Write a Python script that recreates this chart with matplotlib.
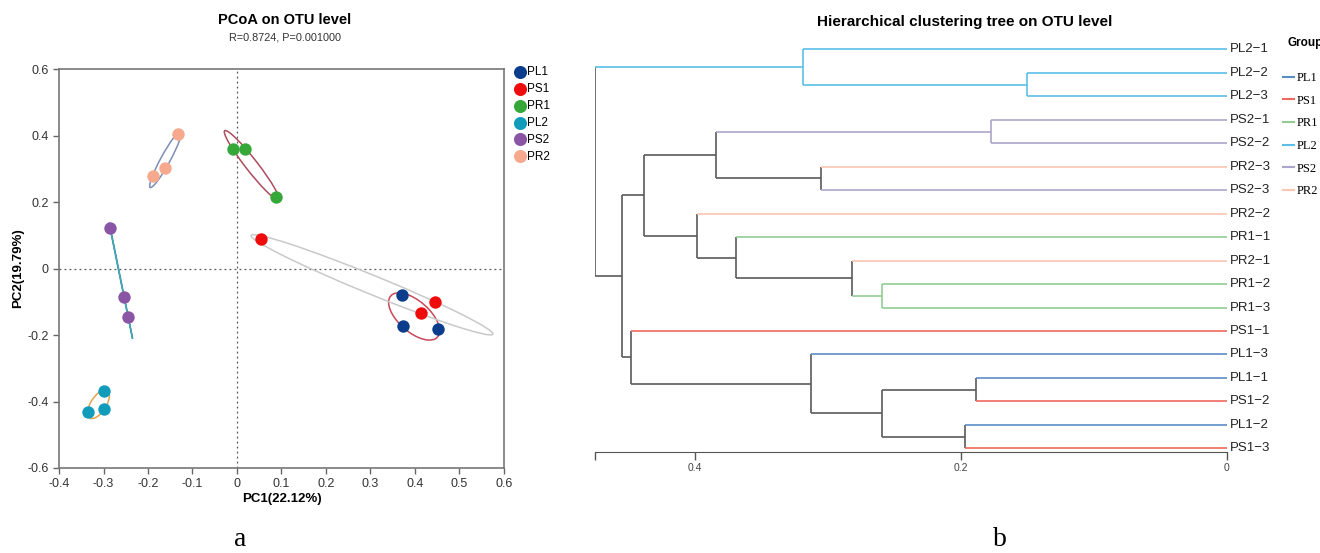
import numpy as np
import matplotlib
matplotlib.use("Agg")
import matplotlib.pyplot as plt
from matplotlib.patches import Ellipse
from matplotlib.lines import Line2D

plt.rcParams['font.family'] = ['Liberation Sans', 'DejaVu Sans']

# ---- PCoA data ----
groups = ["PL1", "PS1", "PR1", "PL2", "PS2", "PR2"]
pc1 = {
    "PL1": [0.370, 0.373, 0.451],
    "PS1": [0.053, 0.413, 0.444],
    "PR1": [-0.008, 0.019, 0.087],
    "PL2": [-0.300, -0.300, -0.334],
    "PS2": [-0.285, -0.253, -0.245],
    "PR2": [-0.132, -0.161, -0.189],
}
pc2 = {
    "PL1": [-0.079, -0.172, -0.182],
    "PS1": [0.089, -0.134, -0.102],
    "PR1": [0.359, 0.359, 0.215],
    "PL2": [-0.369, -0.424, -0.432],
    "PS2": [0.121, -0.087, -0.145],
    "PR2": [0.405, 0.301, 0.278],
}
point_colors = {"PL1": "#0b3d8c", "PS1": "#ee0c0c", "PR1": "#36a83a",
                "PL2": "#119cbc", "PS2": "#8a55a5", "PR2": "#f6a98c"}
ellipse_colors = {"PL1": "#c9485b", "PS1": "#c9c9c9", "PR1": "#ad4c5c",
                  "PL2": "#e5a24e", "PS2": "#4aa3b5", "PR2": "#7d8db8"}

# ---- clustering tree data ----
leaves = ["PL2-1", "PL2-2", "PL2-3", "PS2-1", "PS2-2", "PR2-3", "PS2-3", "PR2-2", "PR1-1",
          "PR2-1", "PR1-2", "PR1-3", "PS1-1", "PL1-3", "PL1-1", "PS1-2", "PL1-2", "PS1-3"]
merges = [
    ("n1", "PL2-2", "PL2-3", 0.150),
    ("n2", "PL2-1", "n1", 0.319),
    ("n3", "PS2-1", "PS2-2", 0.177),
    ("n4", "PR2-3", "PS2-3", 0.305),
    ("n5", "n3", "n4", 0.384),
    ("n6", "PR1-2", "PR1-3", 0.259),
    ("n7", "PR2-1", "n6", 0.282),
    ("n8", "PR1-1", "n7", 0.369),
    ("n9", "PR2-2", "n8", 0.398),
    ("n10", "n5", "n9", 0.438),
    ("n11", "PL1-1", "PS1-2", 0.189),
    ("n12", "PL1-2", "PS1-3", 0.197),
    ("n13", "n11", "n12", 0.259),
    ("n14", "PL1-3", "n13", 0.313),
    ("n15", "PS1-1", "n14", 0.448),
    ("n16", "n10", "n15", 0.455),
    ("root", "n2", "n16", 0.475),
]
tree_colors = {"PL1": "#5b8ec4", "PS1": "#ee6a5e", "PR1": "#93cc93",
               "PL2": "#5cbfe8", "PS2": "#ada5ca", "PR2": "#fbc6b2"}
tree_gray = "#5a5a5a"

fig = plt.figure(figsize=(13.2, 5.53), dpi=100)
W, H = 1320, 553

# ================= panel a: PCoA =================
ax = fig.add_axes([59 / W, 1 - 468 / H, 445 / W, 399 / H])
ax.set_xlim(-0.4, 0.6)
ax.set_ylim(-0.6, 0.6)
ax.axhline(0, color="#555555", ls=(0, (1.5, 2.5)), lw=0.9, zorder=1)
ax.axvline(0, color="#555555", ls=(0, (1.5, 2.5)), lw=0.9, zorder=1)


def draw_ellipse(ax, x, y, color, k=1.25):
    cov = np.cov(x, y)
    vals, vecs = np.linalg.eigh(cov)
    vals = np.clip(vals, 1e-8, None)
    angle = np.degrees(np.arctan2(vecs[1, 1], vecs[0, 1]))
    e = Ellipse((np.mean(x), np.mean(y)), 2 * k * np.sqrt(vals[1]), 2 * k * np.sqrt(vals[0]),
                angle=angle, fill=False, edgecolor=color, lw=1.1, zorder=2)
    ax.add_patch(e)


for g in groups:
    draw_ellipse(ax, pc1[g], pc2[g], ellipse_colors[g])
for g in groups:
    ax.scatter(pc1[g], pc2[g], s=80, color=point_colors[g], zorder=3, linewidths=0, label=g)

ax.set_xticks(np.arange(-0.4, 0.61, 0.1))
ax.set_xticklabels(["-0.4", "-0.3", "-0.2", "-0.1", "0", "0.1", "0.2", "0.3", "0.4", "0.5", "0.6"])
ax.set_yticks(np.arange(-0.6, 0.61, 0.2))
ax.set_yticklabels(["-0.6", "-0.4", "-0.2", "0", "0.2", "0.4", "0.6"])
ax.tick_params(direction="out", length=4, width=1, color="#666666", labelsize=9, labelcolor="#333333")
for s in ax.spines.values():
    s.set_color("#777777")
    s.set_linewidth(1.2)
ax.set_xlabel("PC1(22.12%)", fontsize=9.5, fontweight="bold", labelpad=2)
ax.set_ylabel("PC2(19.79%)", fontsize=9.5, fontweight="bold", labelpad=2)
ax.legend(loc="upper left", bbox_to_anchor=(1.01, 1.02), frameon=False, fontsize=8.5,
          handletextpad=0.0, labelspacing=0.42, borderaxespad=0, markerscale=1.05,
          handlelength=1.2)

fig.text(285 / W, 1 - 20 / H, "PCoA on OTU level", ha="center", va="center",
         fontsize=10.5, fontweight="bold")
fig.text(285 / W, 1 - 37 / H, "R=0.8724, P=0.001000", ha="center", va="center",
         fontsize=7.8, color="#333333")
fig.text(240 / W, 1 - 540 / H, "a", ha="center", va="center", fontsize=20,
         family=["Liberation Serif", "DejaVu Serif"])

# ================= panel b: clustering tree =================
bx = fig.add_axes([595 / W, 1 - 452.3 / H, (1227 - 595) / W, (452.3 - 40) / H])
bx.set_xlim(0.475, 0)
bx.set_ylim(17.17, -0.4)

ypos = {name: i for i, name in enumerate(leaves)}
xpos = {name: 0.0 for name in leaves}
grp = {name: name.split("-")[0] for name in leaves}
for name, a, b, h in merges:
    ypos[name] = (ypos[a] + ypos[b]) / 2
    xpos[name] = h
    grp[name] = grp[a] if grp[a] == grp[b] else None


def col(node):
    return tree_colors[grp[node]] if grp[node] else tree_gray


for name, a, b, h in merges:
    # vertical connector
    bx.plot([h, h], [ypos[a], ypos[b]], color=col(name), lw=1.2, solid_capstyle="butt")
    # horizontal edges to children
    for c in (a, b):
        bx.plot([h, xpos[c]], [ypos[c], ypos[c]], color=col(c), lw=1.2, solid_capstyle="butt")

for name in leaves:
    bx.text(-0.002, ypos[name], name.replace("-", "\u2212"), ha="left", va="center",
            fontsize=9.5, color="#222222", clip_on=False)

for s in ["top", "left", "right"]:
    bx.spines[s].set_visible(False)
bx.spines["bottom"].set_bounds(0, 0.475)
bx.spines["bottom"].set_color("#555555")
bx.set_yticks([])
bx.set_xticks([0.475, 0.4, 0.2, 0])
bx.set_xticklabels(["", "0.4", "0.2", "0"])
bx.tick_params(axis="x", direction="out", length=6, width=1, color="#555555",
               labelsize=7.5, labelcolor="#444444", pad=2)

fig.text(965 / W, 1 - 22 / H, "Hierarchical clustering tree on OTU level", ha="center",
         va="center", fontsize=11, fontweight="bold")
fig.text(1000 / W, 1 - 540 / H, "b", ha="center", va="center", fontsize=20,
         family=["Liberation Serif", "DejaVu Serif"])

fig.text(1287 / W, 1 - 43 / H, "Group", ha="left", va="center", fontsize=8.5,
         fontweight="bold")
handles = [Line2D([0], [0], color=tree_colors[g], lw=1.5) for g in groups]
fig.legend(handles, groups, loc="upper left", bbox_to_anchor=(1283 / W, 1 - 72 / H),
           frameon=False, handlelength=0.9, handletextpad=0.2,
           labelspacing=0.85, borderaxespad=0, borderpad=0,
           prop={"family": ["Liberation Serif"], "size": 9})

fig.savefig("out.png", dpi=100)
